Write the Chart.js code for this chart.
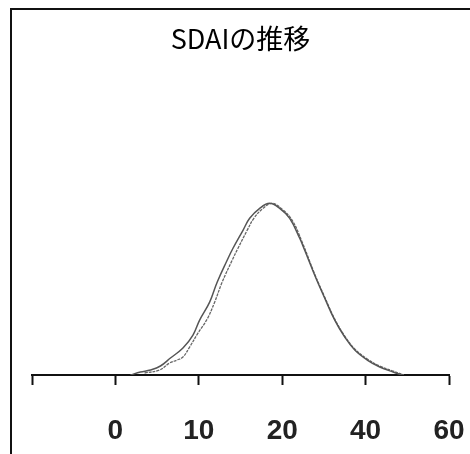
<!DOCTYPE html>
<html>
<head>
<meta charset="utf-8">
<script src="https://cdn.jsdelivr.net/npm/chart.js@4.4.1/dist/chart.umd.min.js"></script>
<style>
  html, body { margin: 0; padding: 0; background: #fff; }
  #wrap { position: relative; width: 470px; height: 454px; }
  #frame { position: absolute; left: 10px; top: 8px; width: 460px; height: 446px;
           border-left: 2px solid #111; border-top: 2px solid #111; box-sizing: border-box; pointer-events: none; }
  canvas { position: absolute; left: 0; top: 0; }
</style>
</head>
<body>
<div id="wrap">
  <canvas id="c" width="470" height="454"></canvas>
  <div id="frame"></div>
</div>
<script>
// Tick labels at axis positions 0..5
const tickLabels = ['', '0', '10', '20', '40', '60'];

// Series 1 (outer curve): axis positions and heights
const seriesAX = [1.18, 1.30, 1.42, 1.54, 1.66, 1.81, 1.93, 2.01, 2.13, 2.22, 2.34, 2.41, 2.53, 2.61, 2.73, 2.85, 2.97, 3.09, 3.21, 3.27, 3.39, 3.51, 3.63, 3.75, 3.87, 4.02, 4.17, 4.33, 4.44];
const seriesAY = [0, 1.5, 2.5, 4.5, 8.5, 13.5, 20, 27.5, 36.5, 46.5, 57.5, 63.5, 72.5, 78.5, 83.5, 86, 83.5, 78.5, 68.5, 62.5, 50, 38.5, 27.5, 19, 12.5, 7.5, 4, 1.5, 0];

// Series 2 (inner curve)
const seriesBX = [1.35, 1.53, 1.65, 1.74, 1.81, 1.89, 1.99, 2.10, 2.19, 2.28, 2.40, 2.47, 2.58, 2.66, 2.77, 2.88, 3.00, 3.12, 3.24, 3.39, 3.51, 3.63, 3.75, 3.87, 4.02, 4.17, 4.33, 4.46];
const seriesBY = [1, 2.5, 6, 7.5, 9, 14, 21, 28, 36.5, 46.5, 57.5, 63.5, 72.5, 78.5, 83.5, 86, 83, 77.5, 66.5, 50.5, 39, 28, 19.5, 13, 8, 4.5, 2, 0];

const toPts = (xs, ys) => xs.map((x, i) => ({ x: x, y: ys[i] }));

new Chart(document.getElementById('c'), {
  type: 'line',
  data: {
    datasets: [
      { data: toPts(seriesAX, seriesAY), borderColor: '#555', borderWidth: 1.5, pointRadius: 0, tension: 0.4, fill: false },
      { data: toPts(seriesBX, seriesBY), borderColor: '#666', borderWidth: 1.3, pointRadius: 0, tension: 0.4, fill: false, borderDash: [3, 1] }
    ]
  },
  options: {
    responsive: false,
    animation: false,
    layout: { padding: { left: 32, right: 21, top: 0, bottom: 8 } },
    plugins: {
      legend: { display: false },
      tooltip: { enabled: false },
      title: {
        display: true,
        text: 'SDAIの推移',
        color: '#000',
        font: { family: "'Liberation Sans Narrow', 'Noto Sans CJK JP', sans-serif", size: 27, weight: 'normal' },
        padding: { top: 23, bottom: 120 }
      }
    },
    scales: {
      x: {
        type: 'linear',
        min: 0,
        max: 5,
        afterFit: (s) => { s.height = 71; s.paddingRight = 0; s.paddingLeft = 0; },
        ticks: {
          stepSize: 1,
          autoSkip: false,
          maxRotation: 0,
          padding: 29,
          color: '#222',
          font: { family: "'Liberation Sans Narrow', 'Liberation Sans', sans-serif", size: 28, weight: 'bold' },
          callback: (v) => tickLabels[v] !== undefined ? tickLabels[v] : ''
        },
        grid: { drawOnChartArea: false, drawTicks: true, tickLength: 10, tickColor: '#111', tickWidth: 2 },
        border: { display: true, color: '#111', width: 2 }
      },
      y: {
        display: false,
        min: 0,
        max: 100
      }
    }
  }
});
</script>
</body>
</html>
